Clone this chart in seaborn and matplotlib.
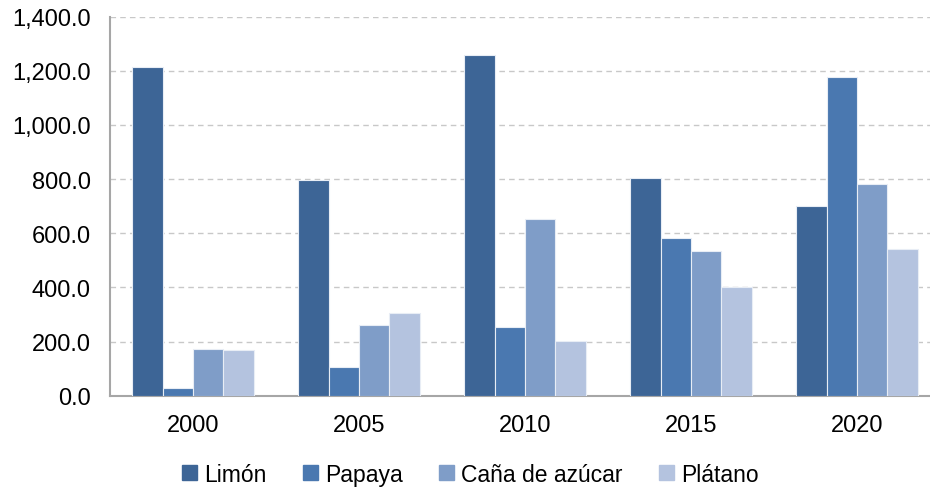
import matplotlib
matplotlib.use("Agg")
import matplotlib.pyplot as plt
import matplotlib.ticker as mticker
import pandas as pd
import seaborn as sns

years = ["2000", "2005", "2010", "2015", "2020"]
crops = ["Limón", "Papaya", "Caña de azúcar", "Plátano"]
limon = [1214, 796, 1257, 805, 702]
papaya = [27, 105, 253, 582, 1176]
cana = [173, 262, 651, 535, 783]
platano = [168, 305, 201, 402, 543]
colors = ["#3D6596", "#4A78B0", "#7F9DC8", "#B4C3DF"]

df = pd.DataFrame({
    "year": years * 4,
    "crop": [c for c in crops for _ in years],
    "value": limon + papaya + cana + platano,
})

sns.set_style("white")
plt.rcParams["font.family"] = ["Liberation Sans", "DejaVu Sans"]

fig = plt.figure(figsize=(9.3, 4.89), dpi=100)
ax = fig.add_axes([110 / 930, 92.3 / 489, 830 / 930, 379 / 489])

sns.barplot(data=df, x="year", y="value", hue="crop", order=years, hue_order=crops,
            palette=colors, width=0.73, edgecolor="#E8EDF5", linewidth=0.8,
            saturation=1, ax=ax, zorder=3)

ax.set_ylim(0, 1400)
ax.set_yticks(range(0, 1401, 200))
ax.yaxis.set_major_formatter(mticker.FuncFormatter(lambda v, p: "{:,.1f}".format(v)))
ax.grid(axis="y", color="#C8C8C8", linestyle=(0, (4, 3)), linewidth=1, zorder=0)
ax.set_axisbelow(True)
ax.set_xlabel("")
ax.set_ylabel("")
ax.tick_params(axis="both", length=0, labelsize=17, colors="#000000")
ax.tick_params(axis="y", pad=14)
ax.tick_params(axis="x", pad=13)
for s in ["top", "right"]:
    ax.spines[s].set_visible(False)
for s in ["left", "bottom"]:
    ax.spines[s].set_color("#A6A6A6")
    ax.spines[s].set_linewidth(1.5)

# legend below the plot, centred on the figure
ax.legend_.remove()
handles = [plt.Rectangle((0, 0), 1, 1, color=c) for c in colors]
fig.legend(handles, crops, loc="center", bbox_to_anchor=(0.506, 0.028), ncol=4,
           frameon=False, fontsize=16.5, labelcolor="#000000",
           handlelength=0.65, handleheight=0.65,
           handletextpad=0.3, columnspacing=1.6)

fig.savefig("out.png", dpi=100)
